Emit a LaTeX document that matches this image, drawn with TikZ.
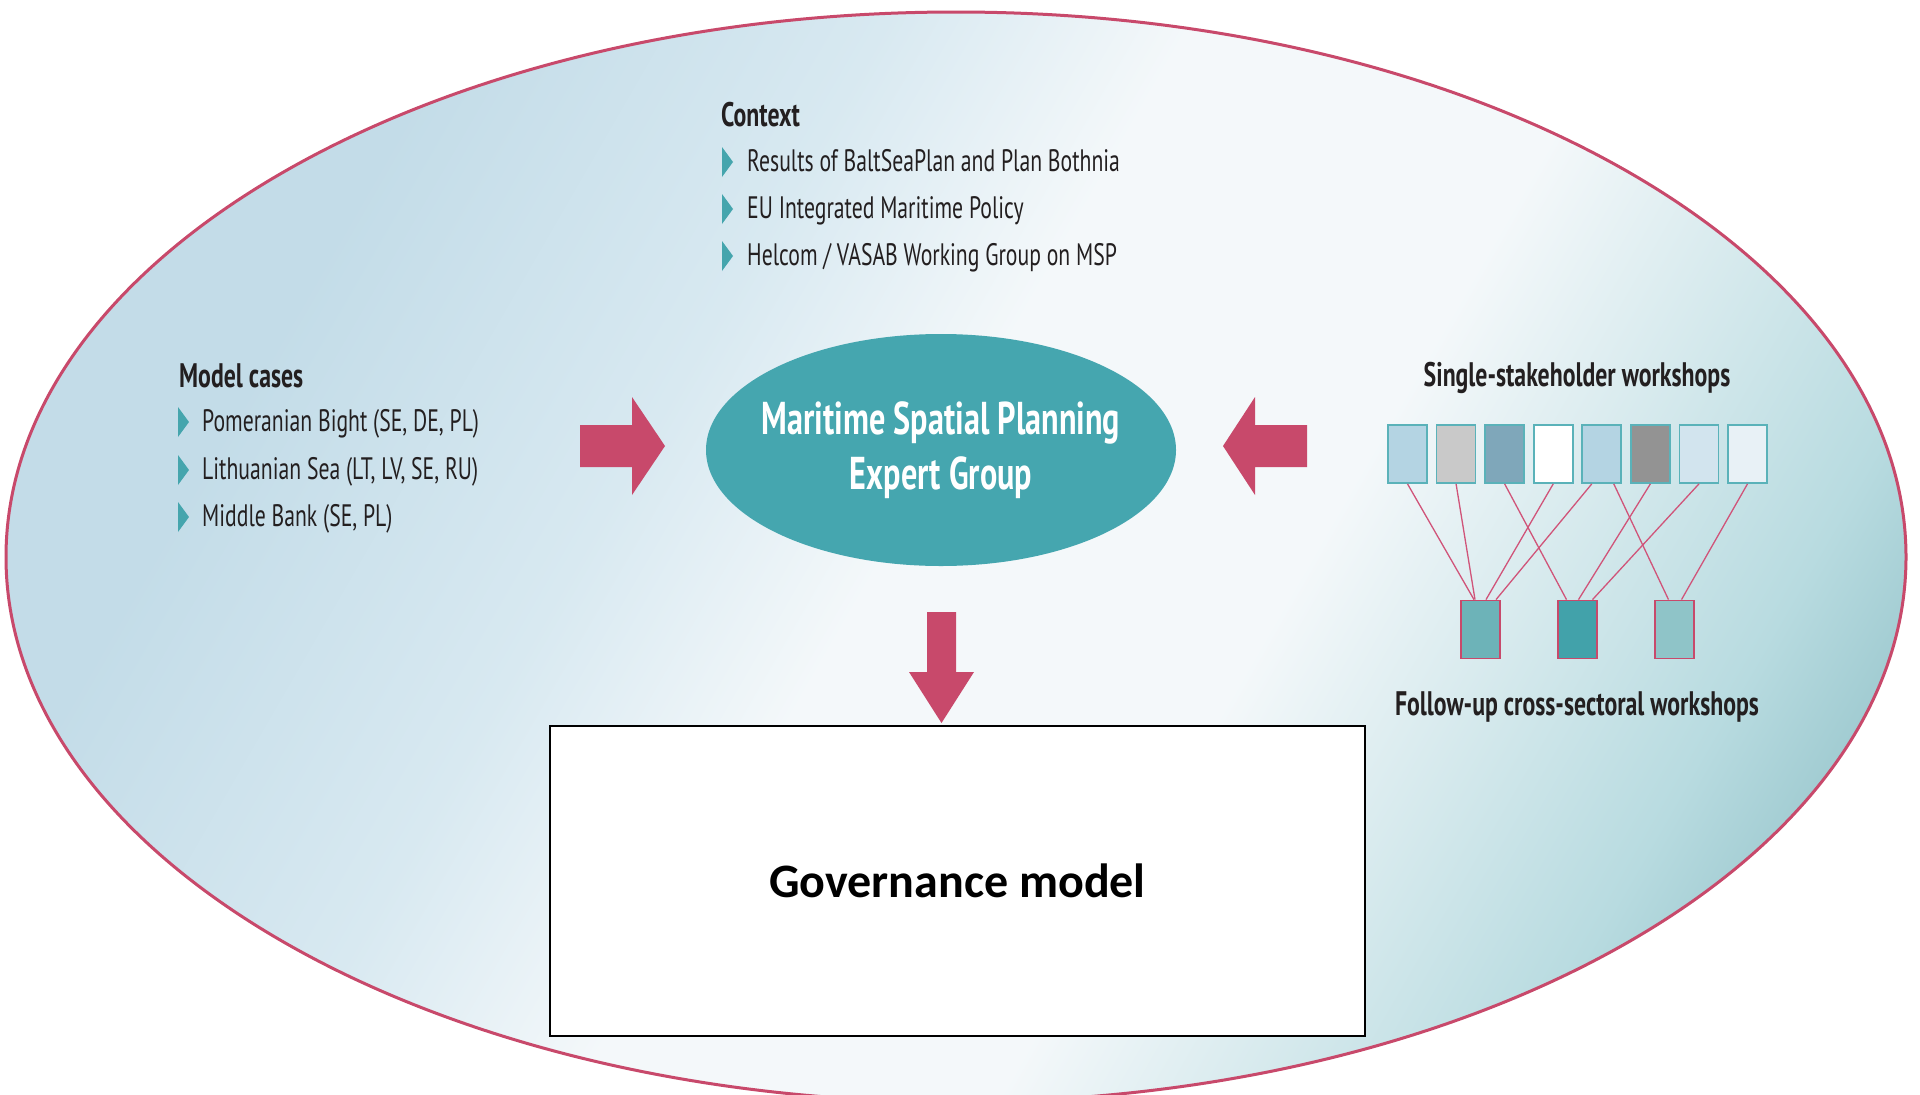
\documentclass[tikz,border=0pt]{standalone}
\usepackage{fontspec}
\usetikzlibrary{shapes.geometric}
\newfontfamily\myr{PT Sans}[FakeStretch=0.70]
\newfontfamily\calib{Carlito}
\definecolor{crim}{HTML}{C8496B}
\definecolor{lnk}{HTML}{D05479}
\definecolor{tealE}{HTML}{45A6AF}
\definecolor{bul}{HTML}{45A5AD}
\definecolor{tbord}{HTML}{5AB2B9}
\definecolor{bA}{HTML}{C3DCE8}
\definecolor{bL}{HTML}{D8E9F1}
\definecolor{bW}{HTML}{F4F8FA}
\definecolor{bT}{HTML}{B8DBE0}
\definecolor{bC}{HTML}{A0CBD1}
\definecolor{t1c}{HTML}{B4D4E3}
\definecolor{t2c}{HTML}{C9C9C9}
\definecolor{t3c}{HTML}{7FA7BA}
\definecolor{t4c}{HTML}{FFFFFF}
\definecolor{t5c}{HTML}{B4D4E3}
\definecolor{t6c}{HTML}{939393}
\definecolor{t7c}{HTML}{D2E4EE}
\definecolor{t8c}{HTML}{E8F1F6}
\definecolor{fAc}{HTML}{6DB3B8}
\definecolor{fBc}{HTML}{42A2AA}
\definecolor{fCc}{HTML}{8FC4C8}
\definecolor{txt}{HTML}{231F20}
\pgfdeclarehorizontalshading{bgsh}{100bp}{color(0bp)=(bA); color(34bp)=(bA); color(42.5bp)=(bL); color(48.6bp)=(bW); color(57bp)=(bW); color(67bp)=(bT); color(70bp)=(bC); color(100bp)=(bC)}
\tikzset{
  bodytxt/.style={anchor=base west, inner sep=0pt, text=txt, font=\myr\fontsize{31}{31}\selectfont},
  titletxt/.style={inner sep=0pt, text=txt, font=\myr\bfseries\fontsize{34}{34}\selectfont},
  bult/.pic={\fill[bul] (0,-15) -- (11,0) -- (0,15) -- cycle;},
  wsbox/.style={draw=tbord, line width=1.8pt, minimum width=39pt, minimum height=58pt, inner sep=0pt},
  fubox/.style={draw=crim, line width=1.8pt, minimum width=39pt, minimum height=58pt, inner sep=0pt},
  lk/.style={draw=lnk, line width=1.3pt},
  bigarrow/.style={fill=crim}
}
\begin{document}
\begin{tikzpicture}[x=1pt,y=-1pt]
\useasboundingbox (0,0) rectangle (1920,1095);
\fill[white] (0,0) rectangle (1920,1095);
\begin{scope}
  \clip (956,557) ellipse [x radius=950pt, y radius=545pt];
  \shade[shading=bgsh, shading angle=-30] (-144,-543) rectangle (2056,1657);
\end{scope}
\draw[crim, line width=3pt] (956,557) ellipse [x radius=950pt, y radius=545pt];

% Context
\node[titletxt, anchor=base west] (ctx) at (721,126) {Context};
\pic at (722,162) {bult};
\node[bodytxt] (c1) at (747,171) {Results of BaltSeaPlan and Plan Bothnia};
\pic at (722,209) {bult};
\node[bodytxt] (c2) at (747,218) {EU Integrated Maritime Policy};
\pic at (722,256) {bult};
\node[bodytxt] (c3) at (747,265) {Helcom / VASAB Working Group on MSP};

% Model cases
\node[titletxt, anchor=base west] (mc) at (179,387) {Model cases};
\pic at (178,422) {bult};
\node[bodytxt] (m1) at (202,431) {Pomeranian Bight (SE, DE, PL)};
\pic at (178,470) {bult};
\node[bodytxt] (m2) at (202,479) {Lithuanian Sea (LT, LV, SE, RU)};
\pic at (178,517) {bult};
\node[bodytxt] (m3) at (202,526) {Middle Bank (SE, PL)};

% Central ellipse
\node[ellipse, fill=tealE, minimum width=470pt, minimum height=232pt, inner sep=0pt] (msp) at (941,450) {};
\node[text=white, align=center, inner sep=0pt, font=\myr\bfseries\fontsize{46}{55}\selectfont] (mspt) at (msp.center)
      {Maritime Spatial Planning\\Expert Group};

% Arrows
\fill[bigarrow] (580,425) -- (632,425) -- (632,397) -- (665,446) -- (632,495) -- (632,467) -- (580,467) -- cycle;
\fill[bigarrow] (1307,425) -- (1255,425) -- (1255,397) -- (1223,446) -- (1255,495) -- (1255,467) -- (1307,467) -- cycle;
\fill[bigarrow] (927,612) -- (956,612) -- (956,672) -- (974,672) -- (941.5,723) -- (909,672) -- (927,672) -- cycle;

% Governance box
\node[draw=black, line width=1.6pt, fill=white, minimum width=815pt, minimum height=310pt, inner sep=0pt,
      font=\calib\bfseries\fontsize{48}{48}\selectfont] (gov) at (957.5,881) {Governance model};

% Workshops
\node[titletxt, anchor=base] (sst) at (1577,386) {Single-stakeholder workshops};
\foreach \i/\c in {1/t1c,2/t2c,3/t3c,4/t4c,5/t5c,6/t6c,7/t7c,8/t8c}
  \node[wsbox, fill=\c] (t\i) at ({1407.5+48.57*(\i-1)},454) {};
\node[fubox, fill=fAc] (fA) at (1480.5,629.5) {};
\node[fubox, fill=fBc] (fB) at (1577.5,629.5) {};
\node[fubox, fill=fCc] (fC) at (1674.5,629.5) {};
\draw[lk] (t1.south) -- ([xshift=-6.5pt]fA.north);
\draw[lk] (t2.south) -- ([xshift=-5.5pt]fA.north);
\draw[lk] (t3.south) -- ([xshift=-11pt]fB.north);
\draw[lk] (t4.south) -- ([xshift=5.5pt]fA.north);
\draw[lk] ([xshift=-10pt]t5.south) -- ([xshift=15.5pt]fA.north);
\draw[lk] ([xshift=12pt]t5.south) -- ([xshift=-6pt]fC.north);
\draw[lk] (t6.south) -- ([xshift=1pt]fB.north);
\draw[lk] (t7.south) -- ([xshift=15pt]fB.north);
\draw[lk] (t8.south) -- ([xshift=7pt]fC.north);
\node[titletxt, anchor=base] (fut) at (1577,715) {Follow-up cross-sectoral workshops};
\end{tikzpicture}
\end{document}
